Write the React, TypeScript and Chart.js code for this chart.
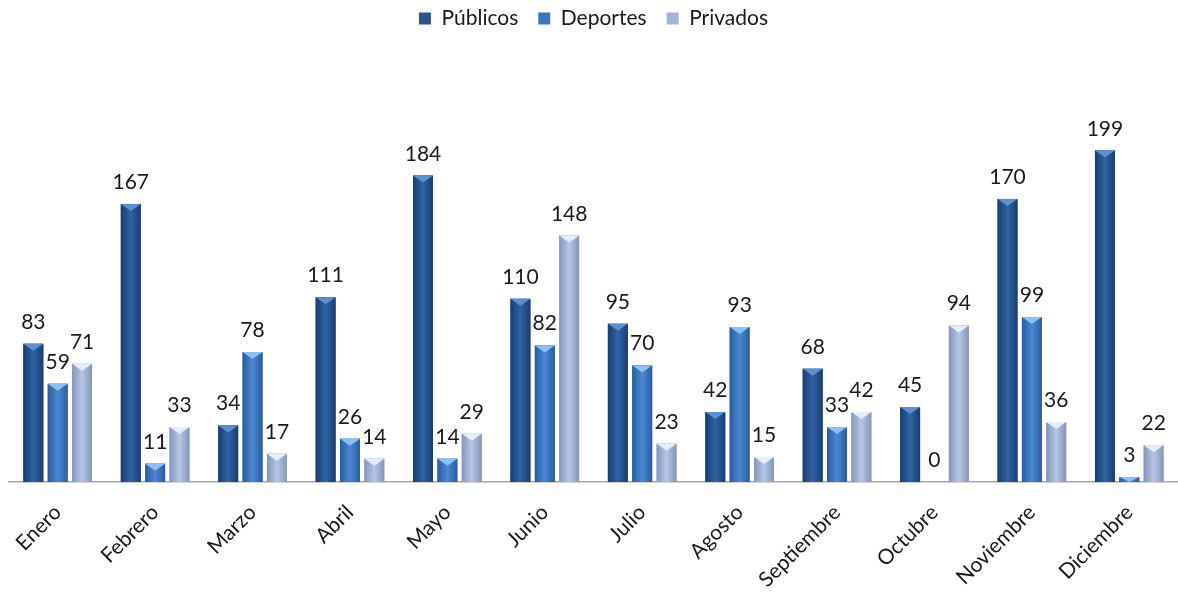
import React, { useEffect, useRef } from "react";
import { Chart, registerables } from "chart.js";

Chart.register(...registerables);

const categories = ["Enero", "Febrero", "Marzo", "Abril", "Mayo", "Junio", "Julio", "Agosto", "Septiembre", "Octubre", "Noviembre", "Diciembre"];
const publicos = [83, 167, 34, 111, 184, 110, 95, 42, 68, 45, 170, 199];
const deportes = [59, 11, 78, 26, 14, 82, 70, 93, 33, 0, 99, 3];
const privados = [71, 33, 17, 14, 29, 148, 23, 15, 42, 94, 36, 22];

const FONT = "Lato, 'Open Sans', sans-serif";

const styles = [
  { base: "#27558F", edge: "#1A3D6E", mid: "#2F63A6", bevel: "#5C8FD0" },
  { base: "#3A76C0", edge: "#2A5C9C", mid: "#4A88D4", bevel: "#8CC0F4" },
  { base: "#A2B3D6", edge: "#8495BA", mid: "#B6C6E6", bevel: "#E4EEFC" },
];

const barStylePlugin = {
  id: "barStyle",
  afterDatasetsDraw(chart: any) {
    const ctx = chart.ctx;
    chart.data.datasets.forEach((ds: any, di: number) => {
      const meta = chart.getDatasetMeta(di);
      const st = styles[di];
      meta.data.forEach((el: any, i: number) => {
        const v = ds.data[i];
        const { x, y, base, width } = el.getProps(["x", "y", "base", "width"], true);
        const l = x - width / 2;
        const r = x + width / 2;
        const h = base - y;
        if (h > 0.5) {
          const g = ctx.createLinearGradient(l, 0, r, 0);
          g.addColorStop(0, st.edge);
          g.addColorStop(0.5, st.mid);
          g.addColorStop(1, st.edge);
          ctx.save();
          ctx.fillStyle = g;
          ctx.fillRect(l, y, width, h);
          const bh = Math.min(7, h);
          ctx.fillStyle = st.bevel;
          ctx.beginPath();
          ctx.moveTo(l, y);
          ctx.lineTo(r, y);
          ctx.lineTo(x, y + bh);
          ctx.closePath();
          ctx.fill();
          ctx.restore();
        }
        ctx.save();
        ctx.fillStyle = "#1a1a1a";
        ctx.font = "21px " + FONT;
        ctx.textAlign = "center";
        ctx.textBaseline = "alphabetic";
        ctx.fillText(String(v), x, y - 15);
        ctx.restore();
      });
    });
  },
};

export default function App() {
  const ref = useRef<HTMLCanvasElement>(null);
  useEffect(() => {
    if (!ref.current) return;
    const chart = new Chart(ref.current, {
      type: "bar",
      data: {
        labels: categories,
        datasets: [
          { label: "Públicos", data: publicos, backgroundColor: styles[0].base, barPercentage: 0.82, categoryPercentage: 0.75 },
          { label: "Deportes", data: deportes, backgroundColor: styles[1].base, barPercentage: 0.82, categoryPercentage: 0.75 },
          { label: "Privados", data: privados, backgroundColor: styles[2].base, barPercentage: 0.82, categoryPercentage: 0.75 },
        ],
      },
      options: {
        animation: false,
        responsive: false,
        maintainAspectRatio: false,
        layout: { padding: { left: 9, right: 0, top: -12, bottom: 0 } },
        plugins: {
          legend: {
            position: "top",
            labels: { boxWidth: 12, boxHeight: 12, font: { size: 21, family: FONT }, color: "#1a1a1a", padding: 20 },
          },
          tooltip: { enabled: false },
        },
        scales: {
          x: {
            grid: { display: false },
            border: { color: "#A6A6A6", width: 1.5 },
            ticks: { maxRotation: 45, minRotation: 45, font: { size: 21, family: FONT }, color: "#1a1a1a", padding: 10 },
            afterFit: (s: any) => { s.height = 110; },
          },
          y: { display: false, min: 0, max: 266 },
        },
      },
      plugins: [barStylePlugin],
    });
    return () => chart.destroy();
  }, []);
  return (
    <div style={{ position: "absolute", left: 0, top: 0, width: 1178, height: 592 }}>
      <canvas ref={ref} width={1178} height={592} style={{ width: 1178, height: 592 }} />
    </div>
  );
}
